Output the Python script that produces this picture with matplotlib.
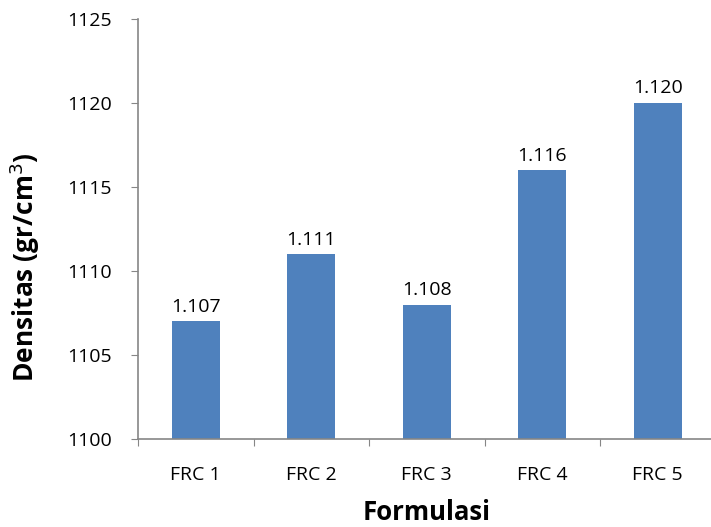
import matplotlib.pyplot as plt

categories = ["FRC 1", "FRC 2", "FRC 3", "FRC 4", "FRC 5"]
densitas = [1107, 1111, 1108, 1116, 1120]
value_labels = ["1.107", "1.111", "1.108", "1.116", "1.120"]

plt.rcParams["font.family"] = ["Open Sans", "DejaVu Sans"]

fig = plt.figure(figsize=(7.11, 5.27), dpi=100)
# axis extends a little past the right edge of the canvas
ax = fig.add_axes([138 / 711, 88 / 527, 577.5 / 711, 420 / 527])

x = range(len(categories))
bars = ax.bar(x, densitas, width=0.415, color="#4f81bd")

for bar, lbl in zip(bars, value_labels):
    ax.annotate(lbl, (bar.get_x() + bar.get_width() / 2, bar.get_height()),
                xytext=(0, 4), textcoords="offset points",
                ha="center", va="bottom", fontsize=14, color="#000000")

ax.set_ylim(1100, 1125)
ax.set_xlim(-0.5, len(categories) - 0.5)
ax.set_yticks(range(1100, 1126, 5))
ax.set_xticks([i - 0.5 for i in range(len(categories) + 1)])
ax.set_xticklabels([])
ax.set_xticks(list(x), minor=True)
ax.set_xticklabels(categories, minor=True)

ax.tick_params(axis="x", which="major", length=5, color="#868686", direction="out")
ax.tick_params(axis="x", which="minor", length=0, pad=19.5, labelsize=14)
ax.tick_params(axis="y", length=5, color="#868686", labelsize=14, pad=14)

for side in ["top", "right"]:
    ax.spines[side].set_visible(False)
for side in ["left", "bottom"]:
    ax.spines[side].set_color("#868686")
    ax.spines[side].set_linewidth(1.2)

ax.set_xlabel("Formulasi", fontsize=18.5, fontweight="bold")
ax.xaxis.set_label_coords(0.5, -0.142)
ax.set_ylabel("Densitas (gr/cm$^3$)", fontsize=19, fontweight="bold")
ax.yaxis.set_label_coords(-0.166, 0.41)

fig.savefig("out.png", dpi=100)
